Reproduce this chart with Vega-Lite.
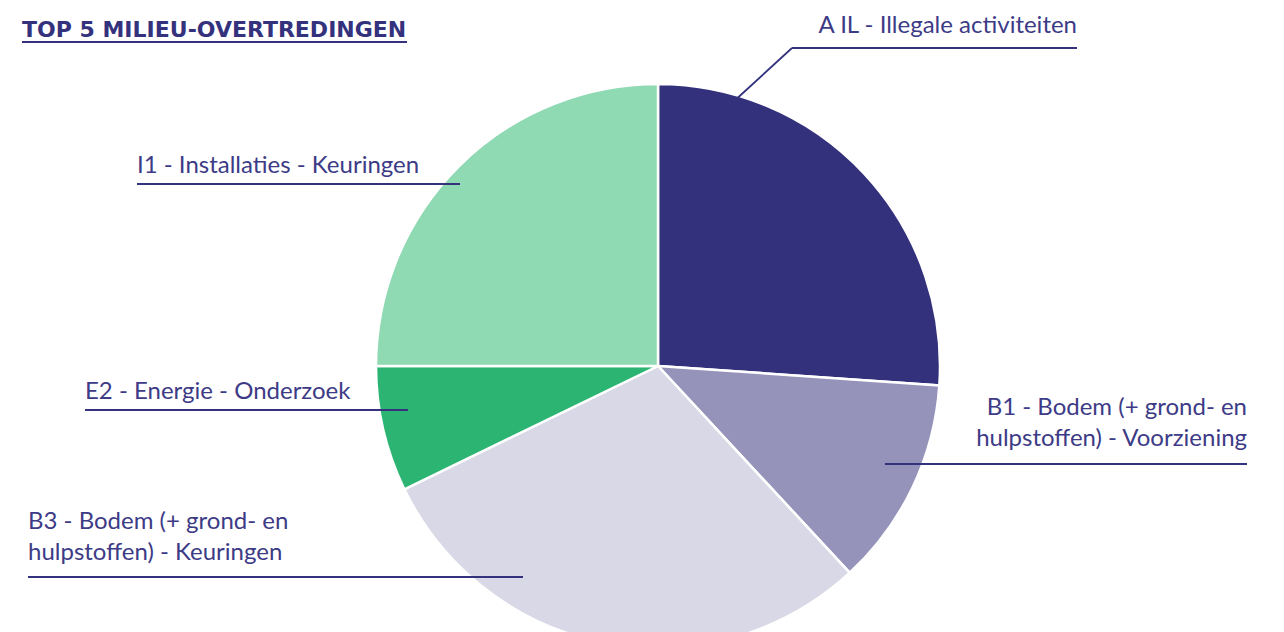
{
  "$schema": "https://vega.github.io/schema/vega-lite/v6.json",
  "width": 1284,
  "height": 632,
  "padding": 0,
  "autosize": {"type": "none"},
  "background": "white",
  "config": {"view": {"stroke": null}},
  "layer": [
    {
      "data": {"values": [
        {"category": "A IL", "value": 26.1},
        {"category": "B1", "value": 12.0},
        {"category": "B3", "value": 29.7},
        {"category": "E2", "value": 7.2},
        {"category": "I1", "value": 25.0}
      ]},
      "mark": {"type": "arc", "outerRadius": 282, "stroke": "white", "strokeWidth": 2.5},
      "encoding": {
        "theta": {"field": "value", "type": "quantitative", "stack": true},
        "order": {"field": "category", "type": "ordinal", "sort": "ascending"},
        "color": {"field": "category", "type": "nominal", "legend": null,
          "scale": {"domain": ["A IL", "B1", "B3", "E2", "I1"], "range": ["#33317c", "#9593ba", "#d9d8e6", "#2cb572", "#8fd9b3"]}},
        "x": {"datum": 0, "type": "quantitative", "scale": {"domain": [-235, 223.571], "nice": false, "zero": false}, "axis": null},
        "y": {"datum": 0, "type": "quantitative", "scale": {"domain": [-95, 130.714], "nice": false, "zero": false}, "axis": null}
      }
    },
    {
      "data": {"values": [
        {"x": 25.46, "y": 93.04, "x2": 47.86, "y2": 113.57},
        {"x": 47.86, "y": 113.57, "x2": 149.64, "y2": 113.57},
        {"x": 81.07, "y": -35, "x2": 210.36, "y2": -35},
        {"x": -225, "y": -75.36, "x2": -48.21, "y2": -75.36},
        {"x": -204.64, "y": -15.71, "x2": -89.29, "y2": -15.71},
        {"x": -186.07, "y": 65, "x2": -70.71, "y2": 65},
        {"x": -227.14, "y": 115.71, "x2": -89.64, "y2": 115.71}
      ]},
      "mark": {"type": "rule", "color": "#34327d", "strokeWidth": 1.8},
      "encoding": {
        "x": {"field": "x", "type": "quantitative", "scale": {"domain": [-235, 223.571], "nice": false, "zero": false}, "axis": null},
        "y": {"field": "y", "type": "quantitative", "scale": {"domain": [-95, 130.714], "nice": false, "zero": false}, "axis": null},
        "x2": {"field": "x2"},
        "y2": {"field": "y2"}
      }
    },
    {
      "data": {"values": [
        {"label": "I1 - Installaties - Keuringen", "x": -186.07, "y": 68.93},
        {"label": "E2 - Energie - Onderzoek", "x": -204.64, "y": -11.79},
        {"label": "B3 - Bodem (+ grond- en\nhulpstoffen) - Keuringen", "x": -225, "y": -58.04}
      ]},
      "mark": {"type": "text", "align": "left", "baseline": "alphabetic", "font": "Lato", "fontSize": 24, "color": "#3d3b86", "lineBreak": "\n", "lineHeight": 31},
      "encoding": {
        "x": {"field": "x", "type": "quantitative", "scale": {"domain": [-235, 223.571], "nice": false, "zero": false}, "axis": null},
        "y": {"field": "y", "type": "quantitative", "scale": {"domain": [-95, 130.714], "nice": false, "zero": false}, "axis": null},
        "text": {"field": "label"}
      }
    },
    {
      "data": {"values": [
        {"label": "A IL - Illegale activiteiten", "x": 149.64, "y": 118.93},
        {"label": "B1 - Bodem (+ grond- en\nhulpstoffen) - Voorziening", "x": 210.36, "y": -17.5}
      ]},
      "mark": {"type": "text", "align": "right", "baseline": "alphabetic", "font": "Lato", "fontSize": 24, "color": "#3d3b86", "lineBreak": "\n", "lineHeight": 31},
      "encoding": {
        "x": {"field": "x", "type": "quantitative", "scale": {"domain": [-235, 223.571], "nice": false, "zero": false}, "axis": null},
        "y": {"field": "y", "type": "quantitative", "scale": {"domain": [-95, 130.714], "nice": false, "zero": false}, "axis": null},
        "text": {"field": "label"}
      }
    },
    {
      "data": {"values": [
        {"label": "TOP 5 MILIEU-OVERTREDINGEN", "x": -227.14, "y": 117.5}
      ]},
      "mark": {"type": "text", "align": "left", "baseline": "alphabetic", "font": "DejaVu Sans", "fontSize": 22, "fontWeight": "bold", "color": "#34327d"},
      "encoding": {
        "x": {"field": "x", "type": "quantitative", "scale": {"domain": [-235, 223.571], "nice": false, "zero": false}, "axis": null},
        "y": {"field": "y", "type": "quantitative", "scale": {"domain": [-95, 130.714], "nice": false, "zero": false}, "axis": null},
        "text": {"field": "label"}
      }
    }
  ]
}
